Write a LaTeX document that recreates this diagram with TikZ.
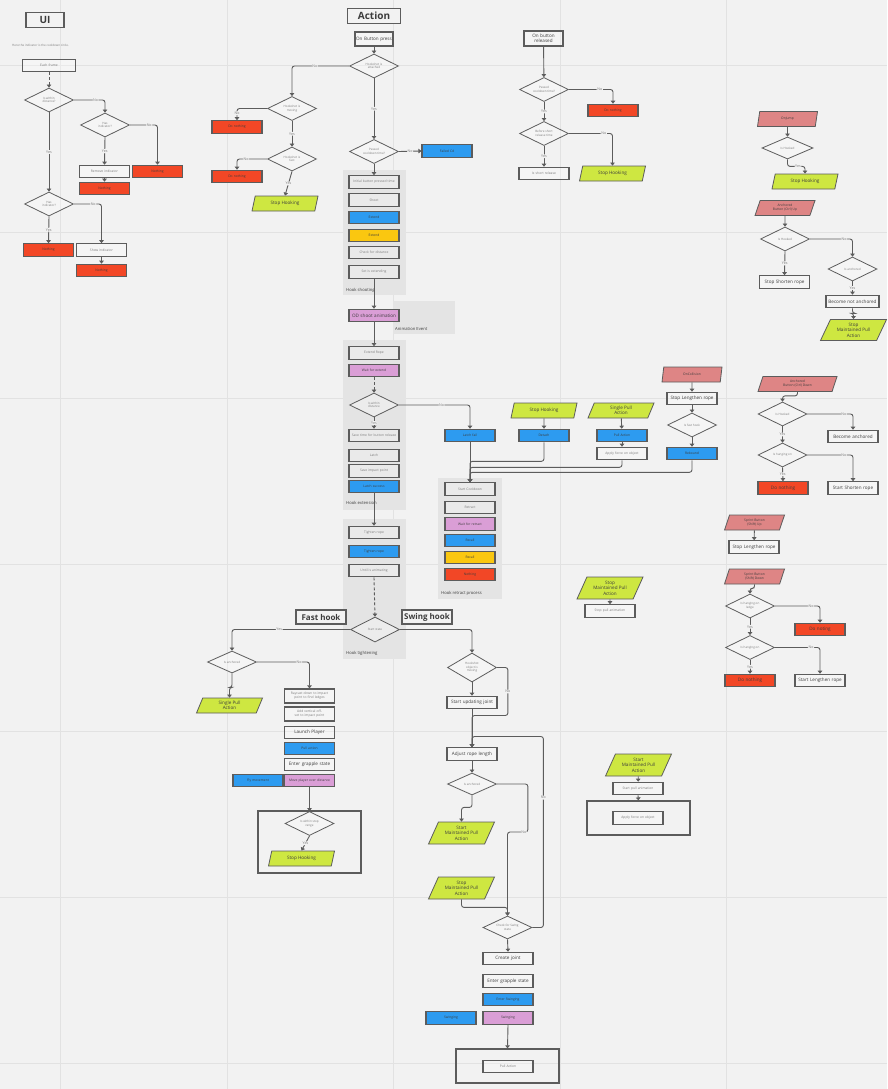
\documentclass[tikz,border=0pt]{standalone}
\usepackage{fontspec}
\setmainfont{Open Sans}
\usetikzlibrary{shapes.geometric,arrows.meta}

\definecolor{paper}{HTML}{F2F2F2}
\definecolor{gridline}{HTML}{E2E2E2}
\definecolor{panelgray}{HTML}{E4E4E4}
\definecolor{edge}{HTML}{5C5C5C}
\definecolor{inktext}{HTML}{7A7A7A}
\definecolor{darkink}{HTML}{3C3C3C}
\definecolor{hookred}{HTML}{F24726}
\definecolor{hookblue}{HTML}{2D9BF0}
\definecolor{hookyellow}{HTML}{FAC710}
\definecolor{hookpink}{HTML}{DA9ED6}
\definecolor{hookgreen}{HTML}{CEE741}
\definecolor{eventred}{HTML}{DE8585}

\tikzset{
  proc/.style={draw=edge, line width=1.1pt, fill=white, fill opacity=0.25, text opacity=1,
    minimum width=50pt, minimum height=12.5pt, inner sep=0.5pt, text width=47pt, align=center,
    font=\fontsize{3.3}{4}\selectfont, text=inktext},
  redbox/.style={proc, fill=hookred, fill opacity=1, text=darkink},
  bluebox/.style={proc, fill=hookblue, fill opacity=1, text=darkink},
  yellowbox/.style={proc, fill=hookyellow, fill opacity=1, text=darkink},
  pinkbox/.style={proc, fill=hookpink, fill opacity=1, text=darkink},
  big/.style={font=\fontsize{4.6}{5.4}\selectfont, text=darkink},
  query/.style={shape=diamond, draw=edge, line width=0.8pt, fill=white, fill opacity=0.3, text opacity=1,
    minimum width=49pt, minimum height=24pt, inner sep=0pt, aspect=2, align=center,
    font=\fontsize{3}{3.6}\selectfont, text=inktext},
  trigger/.style={trapezium, trapezium left angle=55, trapezium right angle=125, trapezium stretches body,
    draw=edge, line width=0.8pt, fill=hookgreen, minimum width=66pt, minimum height=15pt,
    inner sep=0pt, align=center, font=\fontsize{4.6}{5.4}\selectfont, text=darkink},
  event/.style={trigger, fill=eventred, minimum width=60pt, font=\fontsize{3.3}{4}\selectfont},
  heading/.style={draw=edge, line width=1.2pt, fill=paper, font=\bfseries\fontsize{10}{11}\selectfont,
    text=darkink, inner sep=0pt},
  panel/.style={fill=panelgray, inner sep=0pt},
  frame/.style={draw=edge, line width=1.2pt, inner sep=0pt},
  arr/.style={draw=edge, line width=0.9pt, -{Triangle[length=3pt,width=4.5pt]}, rounded corners=2.5pt},
  lbl/.style={fill=paper, inner sep=0.6pt, font=\fontsize{3.6}{4}\selectfont, text=inktext},
  tag/.style={font=\fontsize{4.2}{5}\selectfont, text=darkink, anchor=west, inner sep=0pt},
}

\begin{document}
\begin{tikzpicture}[x=1pt,y=-1pt]
\useasboundingbox (0,0) rectangle (887,1089);
\fill[paper] (0,0) rectangle (887,1089);
\foreach \gx in {60,227,393,560,726}
  \draw[gridline, line width=1pt] (\gx,0) -- (\gx,1089);
\foreach \gy in {66,232,398,564,731,897,1063}
  \draw[gridline, line width=1pt] (0,\gy) -- (887,\gy);

% group panels
\node[panel, minimum width=63pt, minimum height=125pt] (pshoot) at (374.5,232.5) {};
\node[panel, minimum width=62pt, minimum height=33pt] (panim) at (424,317.5) {};
\node[panel, minimum width=63pt, minimum height=170pt] (pextend) at (374.5,425) {};
\node[panel, minimum width=64pt, minimum height=121pt] (pretract) at (470,538.5) {};
\node[panel, minimum width=63pt, minimum height=140pt] (ptighten) at (374.5,589) {};
\node[tag] at (346,290) {Hook shooting};
\node[tag] at (395,329) {Animation Event};
\node[tag] at (346,503) {Hook extension};
\node[tag] at (441,593) {Hook retract process};
\node[tag] at (346,653) {Hook tightening};

% frames
\node[frame, minimum width=103pt, minimum height=62pt] (fstop) at (309.5,842) {};
\node[frame, minimum width=103pt, minimum height=34pt] (fpull) at (507.5,1066) {};
\node[frame, minimum width=103pt, minimum height=34pt] (fforce) at (638.5,818) {};

% UI
\node[heading, minimum width=38pt, minimum height=15pt] (ui) at (45,20) {UI};
\node[font=\fontsize{3}{3.5}\selectfont, text=inktext, anchor=west, inner sep=0pt] (uinote) at (12,45) {Here the indicator is the cooldown circle.};
\node[proc, minimum width=53pt] (eachframe) at (49,65.5) {Each frame};
\node[query] (uidist) at (49,100) {Is within\\distance?};
\node[query] (uihas1) at (105,125) {Has\\indicator?};
\node[proc] (uiremove) at (104.5,171.5) {Remove indicator};
\node[redbox] (uinone1) at (157.5,171.5) {Nothing};
\node[redbox] (uinone2) at (104.5,188.5) {Nothing};
\node[query] (uihas2) at (49,204) {Has\\indicator?};
\node[redbox] (uinone3) at (48.5,250) {Nothing};
\node[proc] (uishow) at (101.5,250) {Show indicator};
\node[redbox] (uinone4) at (101.5,270.5) {Nothing};

\draw[arr, densely dashed] (eachframe) -- (uidist);
\draw[arr] (uidist.east) -| node[lbl, pos=0.35]{No} (uihas1.north);
\draw[arr] (uihas1.south) -- node[lbl]{Yes} (uiremove.north);
\draw[arr] (uihas1.east) -| node[lbl, pos=0.35]{No} (uinone1.north);
\draw[arr] (uiremove) -- (uinone2);
\draw[arr] (uidist.south) -- node[lbl]{Yes} (uihas2.north);
\draw[arr] (uihas2.south) -- node[lbl]{Yes} (uinone3.north);
\draw[arr] (uihas2.east) -| node[lbl, pos=0.35]{No} (uishow.north);
\draw[arr] (uishow) -- (uinone4);

% Action: button press
\node[heading, minimum width=53pt, minimum height=15pt] (action) at (374,16) {Action};
\node[proc, big, minimum width=38pt, text width=36pt, minimum height=14pt] (press) at (374,39) {On Button press};
\node[query] (attached) at (374,66) {Hookshot is\\attached};
\node[query] (moving) at (292,108.5) {Hookshot is\\moving};
\node[redbox] (nothingA) at (237,127) {Do nothing};
\node[query] (fast) at (292,159) {Hookshot is\\fast};
\node[redbox] (nothingB) at (237,176.5) {Do nothing};
\node[trigger] (stopA) at (285,203.5) {Stop Hooking};
\node[query] (cooldown) at (374,151.5) {Passed\\cooldown time?};
\node[bluebox] (failcd) at (447,151) {Failed Cd};

\node[proc] (initpress) at (374,182) {Initial button pressed time};
\node[proc] (shoot) at (374,200) {Shoot};
\node[bluebox] (extendB) at (374,217.5) {Extend};
\node[yellowbox] (extendY) at (374,235.5) {Extend};
\node[proc] (checkdist) at (374,252.5) {Check for distance};
\node[proc] (setext) at (374,272) {Set is extending};
\node[pinkbox, big] (odshoot) at (374,315.5) {OD shoot animation};

\node[proc] (extendrope) at (374,353) {Extend Rope};
\node[pinkbox] (waitext) at (374,370.5) {Wait for extend};
\node[query] (withinB) at (374,405) {Is within\\distance};
\node[proc] (savetime) at (374,435.5) {Save time for button release};
\node[proc] (latch) at (374,455.5) {Latch};
\node[proc] (impact) at (374,471) {Save impact point};
\node[bluebox] (latchok) at (374,486.5) {Latch success};

\node[bluebox] (latchfail) at (470,435.5) {Latch fail};
\node[proc] (startcd) at (470,489) {Start Cooldown};
\node[proc] (retract) at (470,507.5) {Retract};
\node[pinkbox] (waitret) at (470,524) {Wait for retract};
\node[bluebox] (recallB) at (470,540.5) {Recall};
\node[yellowbox] (recallY) at (470,557.5) {Recall};
\node[redbox] (nothingRet) at (470,574.5) {Nothing};

\node[trigger] (stopB) at (544,410.5) {Stop Hooking};
\node[bluebox] (detach) at (544,435.5) {Detach};
\node[trigger] (singleA) at (621,410.5) {Single Pull\\Action};
\node[bluebox] (pullA) at (622,435.5) {Pull Action};
\node[proc] (forceA) at (622,453.5) {Apply force on object};
\node[event] (collide) at (692,374.5) {OnCollision};
\node[proc, big] (stoplenA) at (692,398.5) {Stop Lengthen rope};
\node[query] (isfast) at (692,425) {Is fast hook};
\node[bluebox] (rebound) at (692,453.5) {Rebound};

\node[proc] (tighten1) at (374,532.5) {Tighten rope};
\node[bluebox] (tighten2) at (374,551.5) {Tighten rope};
\node[proc] (untilanim) at (374,570.5) {Until is animating};
\node[query, minimum height=25pt] (startstate) at (375,629.5) {Start state};

\draw[arr] (press) -- (attached);
\draw[arr] (attached.west) -| node[lbl, pos=0.3]{No} (moving.north);
\draw[arr] (moving.west) -| node[lbl, pos=0.7]{No} (nothingA.north);
\draw[arr] (moving.south) -- node[lbl]{Yes} (fast.north);
\draw[arr] (fast.west) -| node[lbl, pos=0.35]{No} (nothingB.north);
\draw[arr] (fast.south) -- node[lbl]{Yes} (stopA.north);
\draw[arr] (attached.south) -- node[lbl]{Yes} (cooldown.north);
\draw[arr] (cooldown.east) -- node[lbl]{No} (failcd.west);
\draw[arr] (cooldown.south) -- (initpress.north);
\draw[arr] (setext.south) -- (odshoot.north);
\draw[arr] (odshoot.south) -- (extendrope.north);
\draw[arr, densely dashed] (waitext.south) -- (withinB.north);
\draw[arr] (withinB.south) -- node[lbl]{Yes} (savetime.north);
\draw[arr] (withinB.east) -| node[lbl, pos=0.3]{No} (latchfail.north);
\draw[arr] (latchfail.south) -- (startcd.north);
\draw[arr] (detach.south) |- ++(-74,19) -- (startcd.north);
\draw[arr] (forceA.south) |- ++(-152,7) -- (startcd.north);
\draw[arr] (rebound.south) |- ++(-222,12) -- (startcd.north);
\draw[arr] (stopB) -- (detach);
\draw[arr] (singleA) -- (pullA);
\draw[arr] (pullA) -- (forceA);
\draw[arr] (collide) -- (stoplenA);
\draw[arr] (stoplenA) -- (isfast);
\draw[arr] (isfast) -- (rebound);
\draw[arr] (latchok.south) -- (tighten1.north);
\draw[arr, densely dashed] (untilanim.south) -- (startstate.north);

% Fast hook
\node[heading, font=\bfseries\fontsize{8}{9}\selectfont, minimum width=50pt, minimum height=14pt] (fasthead) at (321,617) {Fast hook};
\node[query, minimum height=22pt] (anchoredF) at (232,662) {Is anchored};
\node[trigger] (singleF) at (229.5,705.5) {Single Pull\\Action};
\node[proc, minimum height=14pt] (raycast) at (309.5,696) {Raycast down to impact point to find ledges};
\node[proc, minimum height=14pt] (offset) at (309.5,714) {Add vertical offset to impact point};
\node[proc, big] (launch) at (309.5,732.5) {Launch Player};
\node[bluebox] (pullF) at (309.5,748.5) {Pull action};
\node[proc, big] (grappleF) at (309.5,764.5) {Enter grapple state};
\node[pinkbox] (moveover) at (309.5,780.5) {Move player over distance};
\node[bluebox] (flymove) at (258,780.5) {Fly movement};
\node[query] (stoprange) at (309.5,823.5) {Is within stop\\range};
\node[trigger] (stopF) at (301.5,858.5) {Stop Hooking};

\draw[arr] (startstate.west) -| node[lbl, pos=0.3]{Yes} (anchoredF.north);
\draw[arr] (anchoredF.south) -- ++(0,14) -| (singleF.north);
\draw[arr] (anchoredF.east) -| node[lbl, pos=0.4]{No} (raycast.north);
\draw[arr] (moveover.south) -- (stoprange.north);
\draw[arr] (stoprange.south) -- node[lbl]{Yes} (stopF.north);

% Swing hook
\node[heading, font=\bfseries\fontsize{8}{9}\selectfont, minimum width=50pt, minimum height=14pt] (swinghead) at (427,617) {Swing hook};
\node[query, minimum height=29pt] (objmoving) at (472,667.5) {Hookshot\\object is\\moving};
\node[proc, big] (updjoint) at (472,702.5) {Start updating joint};
\node[proc, big] (adjust) at (472,754) {Adjust rope length};
\node[query, minimum height=22pt] (anchoredS) at (472,784) {Is anchored};
\node[trigger, minimum height=22pt] (startmpS) at (461.5,833) {Start\\Maintained Pull\\Action};
\node[trigger, minimum height=22pt] (stopmpS) at (461.5,888) {Stop\\Maintained Pull\\Action};
\node[query, minimum height=23pt] (checkswing) at (507.5,927.5) {Check for Swing\\state};
\node[proc, big] (createjoint) at (508,958.5) {Create joint};
\node[proc, big] (grappleS) at (508,981) {Enter grapple state};
\node[bluebox] (enterswing) at (508,999.5) {Enter Swinging};
\node[pinkbox] (swingP) at (508,1018) {Swinging};
\node[bluebox] (swingB) at (451,1018) {Swinging};
\node[proc] (pullS) at (508,1066.5) {Pull Action};

\draw[arr] (startstate.east) -| (objmoving.north);
\draw[arr] (objmoving.south) -- (updjoint.north);
\draw[arr] (objmoving.east) -| ++(11,48) node[lbl, pos=0.75]{No} -| (adjust.north);
\draw[arr] (updjoint.south) -- (adjust.north);
\draw[arr] (adjust) -- (anchoredS);
\draw[arr] (anchoredS.south) -- ++(0,12) -| (startmpS.north);
\draw[arr] (anchoredS.east) -| ++(31,48) -| node[lbl, pos=0.1]{No} (checkswing.north);
\draw[arr] (stopmpS.south) -- ++(0,8) -| (checkswing.north);
\draw[arr] (checkswing.east) -| ++(11,-191) node[lbl, pos=0.84]{No} -| (adjust.north);
\draw[arr] (checkswing.south) -- (createjoint.north);
\draw[arr] (swingP.south) -- (fpull.north);

% Maintained pull
\node[trigger, minimum height=22pt] (stopmpM) at (610,588) {Stop\\Maintained Pull\\Action};
\node[proc] (stoppull) at (610,611) {Stop pull animation};
\node[trigger, minimum height=22pt] (startmpM) at (638.5,765) {Start\\Maintained Pull\\Action};
\node[proc] (startpull) at (638,788.5) {Start pull animation};
\node[proc] (forceM) at (638,818) {Apply force on object};
\draw[arr] (stopmpM) -- (stoppull);
\draw[arr] (startmpM) -- (startpull);
\draw[arr] (startpull.south) -- (fforce.north);

% Button released
\node[proc, big, minimum width=39pt, text width=37pt, minimum height=15pt] (released) at (543.5,38.5) {On button\\released};
\node[query] (cooldownR) at (544,89.5) {Passed\\cooldown time?};
\node[redbox] (nothingC) at (613,110.5) {Do nothing};
\node[query] (shortrel) at (544,133.5) {Before short\\release time};
\node[trigger] (stopC) at (612.5,173.5) {Stop Hooking};
\node[proc] (isshort) at (544,173.5) {Is short release};
\draw[arr] (released) -- (cooldownR);
\draw[arr] (cooldownR.east) -| node[lbl, pos=0.35]{No} (nothingC.north);
\draw[arr] (cooldownR.south) -- node[lbl]{Yes} (shortrel.north);
\draw[arr] (shortrel.east) -| node[lbl, pos=0.4]{No} (stopC.north);
\draw[arr] (shortrel.south) -- node[lbl]{Yes} (isshort.north);

% Input events
\node[event] (onjump) at (787.5,119) {OnJump};
\node[query, minimum width=51pt, minimum height=22pt] (hooked1) at (787.5,148) {Is Hooked};
\node[trigger] (stopJ) at (805,181.5) {Stop Hooking};
\node[event] (ctrlup) at (785,208) {Anchored\\Button (Ctrl) Up};
\node[query] (hooked2) at (785,239) {Is Hooked};
\node[proc, big] (stopshort) at (784.5,282) {Stop Shorten rope};
\node[query] (anchored2) at (852.5,269) {Is anchored};
\node[proc, big, text width=52pt] (notanch) at (852.5,301.5) {Become not anchored};
\node[trigger, minimum height=21pt] (stopmpR) at (853.5,330) {Stop\\Maintained Pull\\Action};
\draw[arr] (onjump) -- (hooked1);
\draw[arr] (hooked1.south) -- ++(0,7) -| node[lbl, pos=0.3]{Yes} (stopJ.north);
\draw[arr] (ctrlup) -- (hooked2);
\draw[arr] (hooked2.south) -- node[lbl]{Yes} (stopshort.north);
\draw[arr] (hooked2.east) -| node[lbl, pos=0.4]{No} (anchored2.north);
\draw[arr] (anchored2.south) -- node[lbl]{Yes} (notanch.north);
\draw[arr] (notanch.south) -- ++(0,5) -| (stopmpR.north);

\node[event, minimum width=79pt] (ctrldown) at (797.5,384) {Anchored\\Button (Ctrl) Down};
\node[query] (hooked3) at (782.5,414) {Is Hooked};
\node[proc, big] (becomeanch) at (853,436.5) {Become anchored};
\node[query] (hanging1) at (782.5,455) {Is hanging on};
\node[redbox, big] (nothingR1) at (783,488) {Do nothing};
\node[proc, big] (startshort) at (853,488) {Start Shorten rope};
\draw[arr] (ctrldown.south) -- ++(0,4) -| (hooked3.north);
\draw[arr] (hooked3.east) -| node[lbl, pos=0.4]{No} (becomeanch.north);
\draw[arr] (hooked3.south) -- node[lbl]{Yes} (hanging1.north);
\draw[arr] (hanging1.south) -- node[lbl]{Yes} (nothingR1.north);
\draw[arr] (hanging1.east) -| node[lbl, pos=0.4]{No} (startshort.north);

\node[event] (shiftup) at (754.5,522.5) {Sprint Button\\(Shift) Up};
\node[proc, big] (stoplenB) at (754,547) {Stop Lengthen rope};
\node[event] (shiftdown) at (754.5,576.5) {Sprint Button\\(Shift) Down};
\node[query] (ledge) at (750,606) {Is hanging on\\ledge};
\node[redbox, big] (notingR) at (820,629.5) {Do noting};
\node[query] (hanging2) at (750,647.5) {Is hanging on};
\node[redbox, big] (nothingR2) at (750,680.5) {Do nothing};
\node[proc, big] (startlen) at (820,680.5) {Start Lengthen rope};
\draw[arr] (shiftup) -- (stoplenB);
\draw[arr] (shiftdown.south) -- ++(0,4) -| (ledge.north);
\draw[arr] (ledge.east) -| node[lbl, pos=0.4]{No} (notingR.north);
\draw[arr] (ledge.south) -- node[lbl]{Yes} (hanging2.north);
\draw[arr] (hanging2.east) -| node[lbl, pos=0.4]{No} (startlen.north);
\draw[arr] (hanging2.south) -- node[lbl]{Yes} (nothingR2.north);
\end{tikzpicture}
\end{document}
